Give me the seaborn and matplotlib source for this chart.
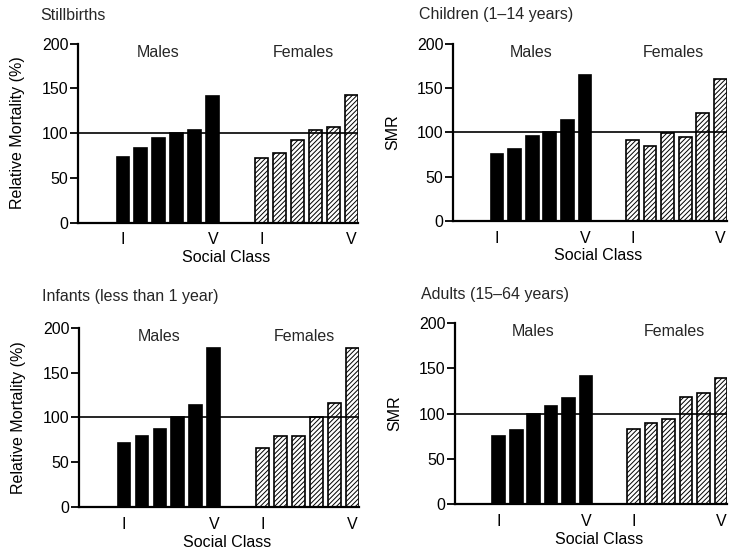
import numpy as np
import pandas as pd
import matplotlib
matplotlib.use("Agg")
import matplotlib.pyplot as plt
import seaborn as sns

# ----------------------------------------------------------
# Data
# ----------------------------------------------------------
social_class = ["I", "II", "IIIN", "IIIM", "IV", "V"]

titles = ["Stillbirths", "Children (1\u201314 years)",
          "Infants (less than 1 year)", "Adults (15\u201364 years)"]
ylabels = ["Relative Mortality (%)", "SMR", "Relative Mortality (%)", "SMR"]

stillbirths_m = [73, 83, 94, 100, 103, 141]
stillbirths_f = [72, 78, 92, 103, 107, 142]
children_m = [76, 81, 96, 100, 114, 165]
children_f = [91, 85, 99, 95, 122, 160]
infants_m = [71, 79, 87, 100, 114, 178]
infants_f = [66, 79, 79, 100, 116, 177]
adults_m = [75, 82, 100, 108, 117, 141]
adults_f = [83, 89, 94, 118, 123, 139]

males = [stillbirths_m, children_m, infants_m, adults_m]
females = [stillbirths_f, children_f, infants_f, adults_f]

# ----------------------------------------------------------
# Style
# ----------------------------------------------------------
sns.set_theme(style="ticks")
plt.rcParams["font.family"] = ["Liberation Sans", "DejaVu Sans"]
plt.rcParams["hatch.linewidth"] = 0.7

fig = plt.figure(figsize=(7.32, 5.51), dpi=100)

# axes boxes [left, bottom, width, height] in figure fraction
boxes = [
    [0.1066, 0.596, 0.3825, 0.325],
    [0.619, 0.599, 0.374, 0.322],
    [0.108, 0.080, 0.3825, 0.325],
    [0.6216, 0.085, 0.372, 0.329],
]

female_offset = 7.7

for i in range(4):
    ax = fig.add_axes(boxes[i])

    df_m = pd.DataFrame({"pos": np.arange(6, dtype=float),
                         "value": males[i], "cls": social_class})
    df_f = pd.DataFrame({"pos": np.arange(6, dtype=float) + female_offset,
                         "value": females[i], "cls": social_class})

    sns.barplot(data=df_m, x="pos", y="value", native_scale=True, ax=ax,
                color="black", saturation=1, width=0.72, errorbar=None,
                edgecolor="black", linewidth=1.2)
    n_m = len(ax.patches)
    sns.barplot(data=df_f, x="pos", y="value", native_scale=True, ax=ax,
                color="white", saturation=1, width=0.72, errorbar=None,
                edgecolor="black", linewidth=1.2)
    for p in ax.patches[n_m:]:
        p.set_hatch("///////")

    ax.axhline(100, color="black", lw=1.2, zorder=5)

    ax.set_ylim(0, 200)
    ax.set_xlim(-2.5, 5 + female_offset + 0.37)
    ax.set_yticks([0, 50, 100, 150, 200])
    ax.set_xticks([0, 5, female_offset, 5 + female_offset],
                  labels=["I", "V", "I", "V"])
    ax.tick_params(axis="y", direction="out", length=6, width=1.3,
                   pad=1, labelsize=11.5, colors="black")
    ax.tick_params(axis="x", length=0, pad=7, labelsize=11.5, colors="black")

    sns.despine(ax=ax)
    for s in ["left", "bottom"]:
        ax.spines[s].set_linewidth(1.6)
        ax.spines[s].set_color("black")

    ax.set_ylabel(ylabels[i], fontsize=11.5, labelpad=12, color="black")
    ax.set_xlabel("Social Class", fontsize=11.5, labelpad=5, color="black")
    ax.xaxis.set_label_coords(0.53, -0.155)

    ax.text(1.95, 190, "Males", ha="center", va="center", fontsize=11.5)
    ax.text(10.05, 190, "Females", ha="center", va="center", fontsize=11.5)

# panel titles
fig.text(40 / 732, 1 - 15 / 551, titles[0], ha="left", va="center", fontsize=11.5)
fig.text(419 / 732, 1 - 15 / 551, titles[1], ha="left", va="center", fontsize=11.5)
fig.text(42 / 732, 1 - 296 / 551, titles[2], ha="left", va="center", fontsize=11.5)
fig.text(421 / 732, 1 - 294 / 551, titles[3], ha="left", va="center", fontsize=11.5)

plt.savefig("out.png", dpi=100)
